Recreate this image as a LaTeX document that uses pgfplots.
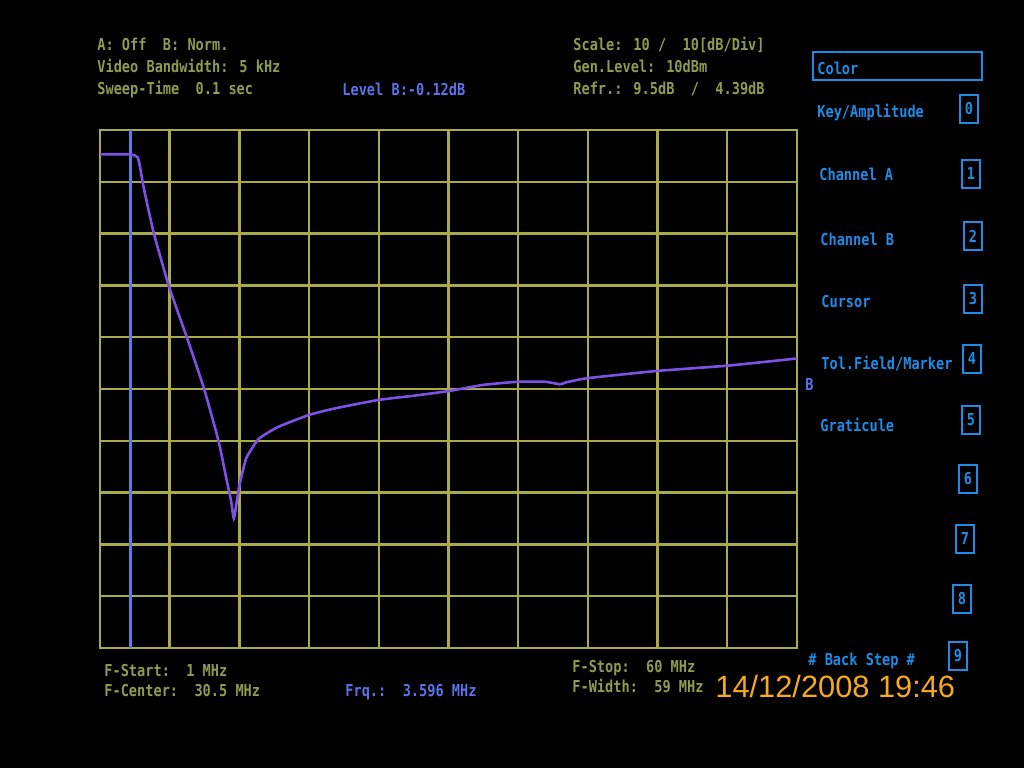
\documentclass[border=0pt]{standalone}
\usepackage{pgfplots}
\pgfplotsset{compat=1.18}
\usepackage{fontspec}
\newfontfamily\scr[FakeStretch=0.83]{DejaVu Sans Mono Bold}
\newfontfamily\stamp{Liberation Sans}

\definecolor{gridcol}{RGB}{170,170,70}
\definecolor{txtcol}{RGB}{145,155,80}
\definecolor{lvlblue}{RGB}{90,115,235}
\definecolor{menublue}{RGB}{30,140,230}
\definecolor{trace}{RGB}{125,80,230}
\definecolor{markcol}{RGB}{90,125,225}
\definecolor{datecol}{RGB}{245,170,30}

\begin{document}
\begin{tikzpicture}
\fill[black] (0pt,0pt) rectangle (512pt,-384pt);

\begin{axis}[
  at={(50pt,-324pt)}, anchor=south west,
  width=348.5pt, height=259pt, scale only axis,
  xmin=1, xmax=60, ymin=-95, ymax=5,
  xtick={1,6.9,12.8,18.7,24.6,30.5,36.4,42.3,48.2,54.1,60},
  ytick={-95,-85,-75,-65,-55,-45,-35,-25,-15,-5,5},
  xticklabels={}, yticklabels={},
  major tick length=0pt,
  grid=major,
  grid style={gridcol, line width=1.2pt},
  axis line style={gridcol, line width=1.2pt},
]
% marker at 3.596 MHz
\addplot[markcol, line width=1.2pt] coordinates {(3.596,-95) (3.596,5)};
% channel B trace
\addplot[trace, line width=1.3pt, smooth, tension=0.3] coordinates {
(1.0,0.3) (3.6,0.3) (4.19,-0.3) (4.42,-2.5) (4.66,-5.7) (5.54,-14.8)
(6.84,-25.2) (8.38,-35.2) (9.79,-44.8) (11.03,-55) (11.68,-62.1)
(12.09,-66.5) (12.33,-70) (12.56,-67) (12.8,-63.6) (13.39,-58.3)
(14.45,-54.6) (16.1,-52.3) (18.7,-50) (20.77,-48.8) (24.6,-47.1)
(27.55,-46.3) (30.5,-45.4) (33.45,-44.2) (36.4,-43.6) (38.7,-43.6)
(39.94,-44.1) (40.47,-43.7) (42.3,-42.9) (48.2,-41.5) (54.1,-40.5)
(60,-39.1)};
\end{axis}

\begin{scope}[x=0.5pt,y=-0.5pt,
  st/.style={anchor=base west, inner sep=0pt, font=\scr\fontsize{8.2}{9}\selectfont},
  bx/.style={draw=menublue, line width=1pt}]
% upper left
\node[st, txtcol] at (97,50) {A: Off~~B: Norm.};
\node[st, txtcol] at (97,72) {Video Bandwidth: 5 kHz};
\node[st, txtcol] at (97,94) {Sweep-Time~~0.1 sec};
\node[st, lvlblue] at (342,95) {Level B:-0.12dB};
% upper right
\node[st, txtcol] at (573,50) {Scale: 10 /~~10[dB/Div]};
\node[st, txtcol] at (573,72) {Gen.Level: 10dBm};
\node[st, txtcol] at (573,94) {Refr.: 9.5dB~~/~~4.39dB};
% bottom
\node[st, txtcol] at (104,676) {F-Start:~~1 MHz};
\node[st, txtcol] at (104,696) {F-Center:~~30.5 MHz};
\node[st, lvlblue] at (345,696) {Frq.:~~3.596 MHz};
\node[st, txtcol] at (572,672) {F-Stop:~~60 MHz};
\node[st, txtcol] at (572,692) {F-Width:~~59 MHz};
\node[anchor=base west, inner sep=0pt, datecol, font=\stamp\fontsize{15.4}{17}\selectfont] at (715,697) {14/12/2008~19:46};
% trace label
\node[st, lvlblue] at (805,390) {B};
% menu
\draw[bx] (813,52) rectangle (982,80);
\node[st, menublue] at (817,74) {Color};
\node[st, menublue] at (817,117) {Key/Amplitude};
\node[st, menublue] at (819,180) {Channel A};
\node[st, menublue] at (820,245) {Channel B};
\node[st, menublue] at (821,307) {Cursor};
\node[st, menublue] at (821,369) {Tol.Field/Marker};
\node[st, menublue] at (820,431) {Graticule};
\node[st, menublue] at (808,665) {\# Back Step \#};
\foreach \n/\xa/\ya in {0/960/95, 1/962/160, 2/964/222, 3/964/285, 4/963/345,
                         5/962/406, 6/959/465, 7/956/525, 8/953/585, 9/949/642} {
  \draw[bx] (\xa,\ya) rectangle ++(18,28);
  \node[menublue, inner sep=0pt, font=\scr\fontsize{8.2}{9}\selectfont] at (\xa+9,\ya+14) {\n};
}
\end{scope}
\end{tikzpicture}
\end{document}
